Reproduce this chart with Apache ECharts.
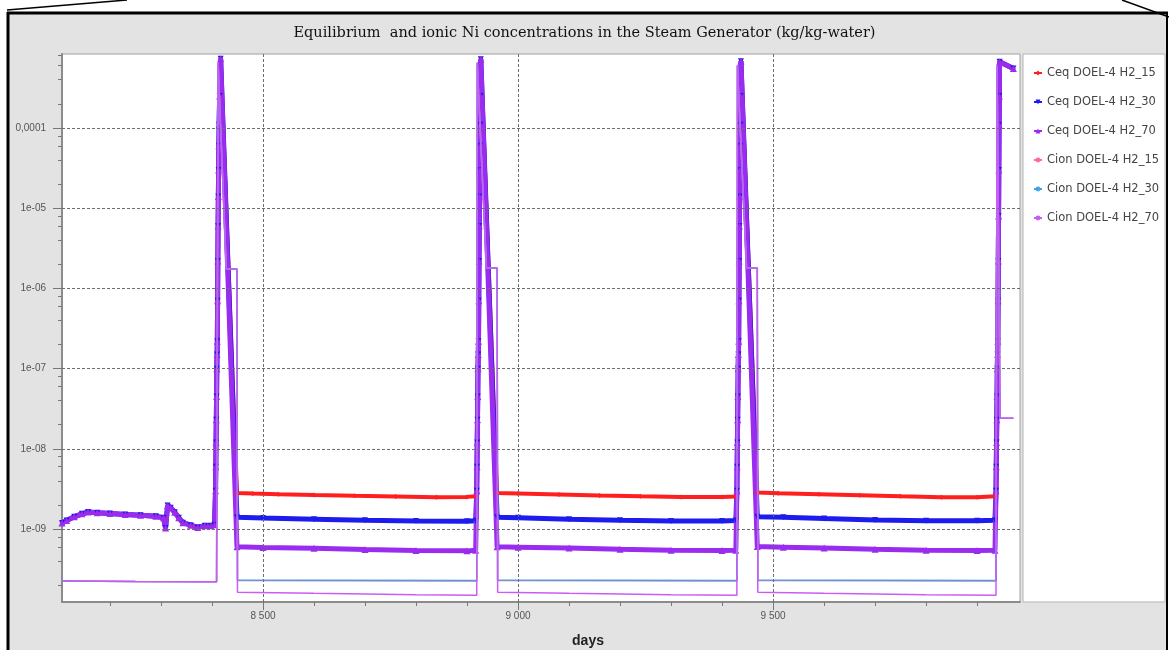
<!DOCTYPE html>
<html><head><meta charset="utf-8">
<script src="https://cdn.jsdelivr.net/npm/echarts@6/dist/echarts.min.js"></script>
<style>html,body{margin:0;padding:0;background:#fff}#c{width:1169px;height:650px}</style>
</head><body><div id="c"></div>
<script>
// ---------- text ----------
const TITLE = 'Equilibrium  and ionic Ni concentrations in the Steam Generator (kg/kg-water)';
const X_NAME = 'days';
const seriesNames = ['Ceq DOEL-4 H2_15','Ceq DOEL-4 H2_30','Ceq DOEL-4 H2_70','Cion DOEL-4 H2_15','Cion DOEL-4 H2_30','Cion DOEL-4 H2_70'];

// ---------- ticks ----------
const xTickValues = [8500, 9000, 9500];
const xTickLabels = ['8 500', '9 000', '9 500'];
const xMinorTicks = [8200, 8300, 8400, 8600, 8700, 8800, 8900, 9100, 9200, 9300, 9400, 9600, 9700, 9800, 9900];
const yTickValues = [1e-9, 1e-8, 1e-7, 1e-6, 1e-5, 1e-4];
const yTickLabels = ['1e-09', '1e-08', '1e-07', '1e-06', '1e-05', '0,0001'];
const yMinorTicks = [2e-10,4e-10,6e-10,8e-10, 2e-9,4e-9,6e-9,8e-9, 2e-8,4e-8,6e-8,8e-8, 2e-7,4e-7,6e-7,8e-7, 2e-6,4e-6,6e-6,8e-6, 2e-5,4e-5,6e-5,8e-5, 2e-4,4e-4,6e-4,8e-4];
const X_MIN = 8106, X_MAX = 9984;
const Y_MIN = 1.233e-10, Y_MAX = 8.36e-4;

// ---------- Ceq data (days, kg/kg) ----------
const ceqEarly = [[8106,1.19e-9],[8115,1.28e-9],[8130,1.42e-9],[8145,1.55e-9],[8157,1.63e-9],[8175,1.6e-9],[8200,1.56e-9],[8230,1.52e-9],[8260,1.49e-9],[8290,1.45e-9],[8305,1.38e-9],[8309,1.03e-9],[8313,1.97e-9],[8319,1.85e-9],[8327,1.62e-9],[8335,1.38e-9],[8343,1.2e-9],[8358,1.12e-9],[8372,1.05e-9],[8386,1.1e-9],[8398,1.1e-9],[8405,1.13e-9]];
const rise1 = [[8407,3e-9],[8407.5,6e-9],[8408,1.2e-8],[8408.5,2.3e-8],[8409,4.5e-8],[8409.5,1e-7],[8410,1.5e-7],[8410.5,2.2e-7],[8411,7e-7],[8411.5,2.2e-6],[8412,6e-6],[8412.5,1.4e-5],[8413,3e-5],[8413.5,6e-5],[8414,1.1e-4],[8415,2.5e-4],[8417,7.3e-4]];
const rise2 = [[8919,3e-9],[8919.5,6e-9],[8920,1.2e-8],[8920.5,2.3e-8],[8921,4.5e-8],[8921.5,1e-7],[8922,1.5e-7],[8922.5,2.2e-7],[8923,7e-7],[8923.5,2.2e-6],[8924,6e-6],[8924.5,1.4e-5],[8925,3e-5],[8925.5,6e-5],[8926,1.1e-4],[8926.5,2.5e-4],[8927,7.2e-4]];
const rise3 = [[9429,3e-9],[9429.5,6e-9],[9430,1.2e-8],[9430.5,2.3e-8],[9431,4.5e-8],[9431.5,1e-7],[9432,1.5e-7],[9432.5,2.2e-7],[9433,7e-7],[9433.5,2.2e-6],[9434,6e-6],[9434.5,1.4e-5],[9435,3e-5],[9435.5,6e-5],[9436,1.1e-4],[9436.5,2.5e-4],[9437,6.8e-4]];
const rise4 = [[9937,3e-9],[9937.5,6e-9],[9938,1.2e-8],[9938.5,2.3e-8],[9939,4.5e-8],[9939.5,1e-7],[9940,1.5e-7],[9940.5,2.2e-7],[9941,7e-7],[9941.5,2.2e-6],[9942,8e-6],[9942.5,3e-5],[9943,1.1e-4],[9943.5,2.5e-4],[9944,6.7e-4]];
const ceqTail = [[9971,5.5e-4]];

const ceq15Flat1 = [[8449,2.82e-9],[8480,2.78e-9],[8530,2.72e-9],[8600,2.66e-9],[8680,2.6e-9],[8760,2.55e-9],[8840,2.5e-9],[8900,2.52e-9],[8917,2.56e-9]];
const ceq15Flat2 = [[8959,2.82e-9],[9000,2.78e-9],[9080,2.7e-9],[9160,2.62e-9],[9240,2.56e-9],[9320,2.52e-9],[9400,2.52e-9],[9427,2.55e-9]];
const ceq15Flat3 = [[9469,2.85e-9],[9510,2.8e-9],[9590,2.72e-9],[9670,2.64e-9],[9750,2.56e-9],[9830,2.5e-9],[9900,2.5e-9],[9935,2.56e-9]];

const ceq30Flat1 = [[8449,1.4e-9],[8500,1.37e-9],[8600,1.33e-9],[8700,1.29e-9],[8800,1.26e-9],[8900,1.25e-9],[8917,1.27e-9]];
const ceq30Flat2 = [[8959,1.4e-9],[9000,1.38e-9],[9100,1.33e-9],[9200,1.29e-9],[9300,1.26e-9],[9400,1.26e-9],[9427,1.28e-9]];
const ceq30Flat3 = [[9469,1.42e-9],[9520,1.4e-9],[9600,1.35e-9],[9700,1.3e-9],[9800,1.27e-9],[9900,1.27e-9],[9935,1.29e-9]];

const ceq70Flat1 = [[8449,6.0e-10],[8500,5.9e-10],[8600,5.75e-10],[8700,5.55e-10],[8800,5.4e-10],[8900,5.35e-10],[8917,5.45e-10]];
const ceq70Flat2 = [[8959,6.0e-10],[9000,5.95e-10],[9100,5.8e-10],[9200,5.6e-10],[9300,5.45e-10],[9400,5.4e-10],[9427,5.45e-10]];
const ceq70Flat3 = [[9469,6.05e-10],[9520,5.95e-10],[9600,5.8e-10],[9700,5.6e-10],[9800,5.45e-10],[9900,5.4e-10],[9935,5.45e-10]];

// ---------- Cion data ----------
const cionEarly = [[8106,2.25e-10],[8250,2.22e-10],[8409,2.2e-10],[8411,2.2e-10]];
const cion15 = [[8412,6.5e-4],[8428,1.75e-6],[8449,1.75e-6],[8450,2.28e-10],[8650,2.27e-10],[8919,2.25e-10],[8920,6.5e-4],[8938,1.8e-6],[8959,1.8e-6],[8960,2.28e-10],[9200,2.27e-10],[9429,2.25e-10],[9430,6e-4],[9448,1.8e-6],[9469,1.8e-6],[9470,2.28e-10],[9700,2.27e-10],[9937,2.25e-10],[9939,6e-4],[9945,2.4e-8],[9971,2.4e-8]];
const cion30 = [[8412,6.5e-4],[8428,1.75e-6],[8449,1.75e-6],[8450,2.32e-10],[8650,2.3e-10],[8919,2.28e-10],[8920,6.5e-4],[8938,1.8e-6],[8959,1.8e-6],[8960,2.32e-10],[9200,2.3e-10],[9429,2.28e-10],[9430,6e-4],[9448,1.8e-6],[9469,1.8e-6],[9470,2.32e-10],[9700,2.3e-10],[9937,2.28e-10],[9939,6e-4],[9945,2.4e-8],[9971,2.4e-8]];
const cion70 = [[8412,6.5e-4],[8428,1.75e-6],[8449,1.75e-6],[8450,1.63e-10],[8600,1.58e-10],[8800,1.52e-10],[8919,1.5e-10],[8920,6.5e-4],[8938,1.8e-6],[8959,1.8e-6],[8960,1.63e-10],[9100,1.58e-10],[9300,1.52e-10],[9429,1.5e-10],[9430,6e-4],[9448,1.8e-6],[9469,1.8e-6],[9470,1.63e-10],[9600,1.58e-10],[9800,1.52e-10],[9937,1.5e-10],[9939,6e-4],[9945,2.4e-8],[9971,2.4e-8]];

// ---------- build series data ----------
const dCeq15 = [].concat(ceqEarly, rise1, ceq15Flat1, rise2, ceq15Flat2, rise3, ceq15Flat3, rise4, ceqTail);
const dCeq30 = [].concat(ceqEarly, rise1, ceq30Flat1, rise2, ceq30Flat2, rise3, ceq30Flat3, rise4, ceqTail);
const dCeq70 = [].concat(ceqEarly, rise1, ceq70Flat1, rise2, ceq70Flat2, rise3, ceq70Flat3, rise4, ceqTail);
const dCion15 = [].concat(cionEarly, cion15);
const dCion30 = [].concat(cionEarly, cion30);
const dCion70 = [].concat(cionEarly, cion70);

const COLORS = ['#ff1f1f', '#1c1cee', '#9a2cf0', '#ff6f8f', '#3fa3ee', '#c95cf5'];

function nearestLabel(v, vals, labs) {
  let best = 0, bd = Infinity;
  for (let i = 0; i < vals.length; i++) {
    const d = Math.abs(Math.log10(v) - Math.log10(vals[i]));
    if (d < bd) { bd = d; best = i; }
  }
  return labs[best];
}

const G = {left: 62, top: 54, width: 958, height: 548};

const chart = echarts.init(document.getElementById('c'), null, {renderer: 'canvas'});
const axisFont = {fontFamily: 'Liberation Sans', fontSize: 10, color: '#555'};
const dashed = {color: '#6e6e6e', width: 1, type: [3, 2]};

function ceqSeries(i, data, symbol, size, width, rotate) {
  return {
    name: seriesNames[i], type: 'line', data: data, xAxisIndex: 0, yAxisIndex: 0,
    symbol: symbol, symbolSize: size, symbolRotate: rotate || 0, showSymbol: true,
    lineStyle: {width: width, color: COLORS[i]}, itemStyle: {color: COLORS[i]},
    emphasis: {disabled: true}, z: 3
  };
}
function cionSeries(i, data) {
  return {
    name: seriesNames[i], type: 'line', data: data, xAxisIndex: 0, yAxisIndex: 0,
    symbol: 'none', lineStyle: {width: 1.5, color: COLORS[i]}, itemStyle: {color: COLORS[i]},
    emphasis: {disabled: true}, z: 4
  };
}

// grid lines drawn through the axes' own scales
const gridLineSeries = {
  type: 'line', data: [], xAxisIndex: 0, yAxisIndex: 0, z: 1, silent: true,
  markLine: {
    silent: true, symbol: ['none', 'none'], animation: false,
    label: {show: false}, lineStyle: dashed, emphasis: {disabled: true},
    data: xTickValues.map(v => [{coord: [v, Y_MIN]}, {coord: [v, Y_MAX]}])
      .concat(yTickValues.map(v => [{coord: [X_MIN, v]}, {coord: [X_MAX, v]}]))
  }
};

const option = {
  animation: false,
  backgroundColor: '#ffffff',
  title: {
    text: TITLE, left: 'center', top: 21,
    textStyle: {fontFamily: 'DejaVu Serif', fontSize: 14.5, fontWeight: 'normal', color: '#111'}
  },
  graphic: [
    {type: 'rect', z: -100, shape: {x: 9, y: 14, width: 1157, height: 640}, style: {fill: '#e3e3e3'}},
    {type: 'rect', z: -90, shape: {x: G.left, y: G.top, width: G.width, height: G.height}, style: {fill: '#ffffff', stroke: '#a0a0a0', lineWidth: 1}},
    {type: 'rect', z: -90, shape: {x: 1023, y: 54, width: 142, height: 548}, style: {fill: '#ffffff', stroke: '#b4b4b4', lineWidth: 1}},
    {type: 'line', z: 100, shape: {x1: 7, y1: 13, x2: 1168, y2: 13}, style: {stroke: '#000', lineWidth: 3}},
    {type: 'line', z: 100, shape: {x1: 8, y1: 12, x2: 8, y2: 650}, style: {stroke: '#000', lineWidth: 3}},
    {type: 'line', z: 100, shape: {x1: 1167, y1: 12, x2: 1167, y2: 650}, style: {stroke: '#000', lineWidth: 2}},
    {type: 'line', z: 100, shape: {x1: 7, y1: 10, x2: 127, y2: 0}, style: {stroke: '#000', lineWidth: 1.5}},
    {type: 'line', z: 100, shape: {x1: 1122, y1: 0, x2: 1169, y2: 17}, style: {stroke: '#000', lineWidth: 1.5}},
    {type: 'text', z: 10, x: 588, y: 641, style: {text: X_NAME, fontFamily: 'Liberation Sans', fontSize: 14, fontWeight: 'bold', fill: '#222', align: 'center', verticalAlign: 'middle'}}
  ],
  grid: {left: G.left, top: G.top, width: G.width, height: G.height, show: false, containLabel: false},
  legend: {
    orient: 'vertical', left: 1028, top: 61, itemWidth: 8, itemHeight: 6, itemGap: 15,
    textStyle: {fontFamily: 'DejaVu Sans', fontSize: 11.5, color: '#444', lineHeight: 14},
    lineStyle: {width: 2}, data: seriesNames, selectedMode: false
  },
  xAxis: [
    {
      type: 'value', min: X_MIN, max: X_MAX, position: 'bottom',
      axisLine: {show: true, lineStyle: {color: '#8c8c8c', width: 2}},
      axisTick: {show: true, customValues: xTickValues, length: 8, lineStyle: {color: '#777'}},
      axisLabel: {show: true, customValues: xTickValues, margin: 9, ...axisFont,
        formatter: v => xTickLabels[xTickValues.indexOf(Math.round(v))] || ''},
      splitLine: {show: false}
    },
    {
      type: 'value', min: X_MIN, max: X_MAX, position: 'bottom',
      axisLine: {show: false},
      axisTick: {show: true, customValues: xMinorTicks, length: 4, lineStyle: {color: '#777'}},
      axisLabel: {show: false}, splitLine: {show: false}
    }
  ],
  yAxis: [
    {
      type: 'log', logBase: 10, min: Y_MIN, max: Y_MAX, position: 'left',
      axisLine: {show: true, lineStyle: {color: '#8c8c8c', width: 2}},
      axisTick: {show: true, customValues: yTickValues, length: 9, lineStyle: {color: '#777'}},
      axisLabel: {show: true, customValues: yTickValues, margin: 16, ...axisFont,
        formatter: v => nearestLabel(v, yTickValues, yTickLabels)},
      splitLine: {show: false}
    },
    {
      type: 'log', logBase: 10, min: Y_MIN, max: Y_MAX, position: 'left',
      axisLine: {show: false},
      axisTick: {show: true, customValues: yMinorTicks, length: 4, lineStyle: {color: '#777'}},
      axisLabel: {show: false}, splitLine: {show: false}
    }
  ],
  series: [
    gridLineSeries,
    ceqSeries(0, dCeq15, 'diamond', 5, 4),
    ceqSeries(1, dCeq30, 'triangle', 6, 5, 180),
    ceqSeries(2, dCeq70, 'triangle', 7, 5),
    cionSeries(3, dCion15),
    cionSeries(4, dCion30),
    cionSeries(5, dCion70)
  ]
};
chart.setOption(option);
</script></body></html>
